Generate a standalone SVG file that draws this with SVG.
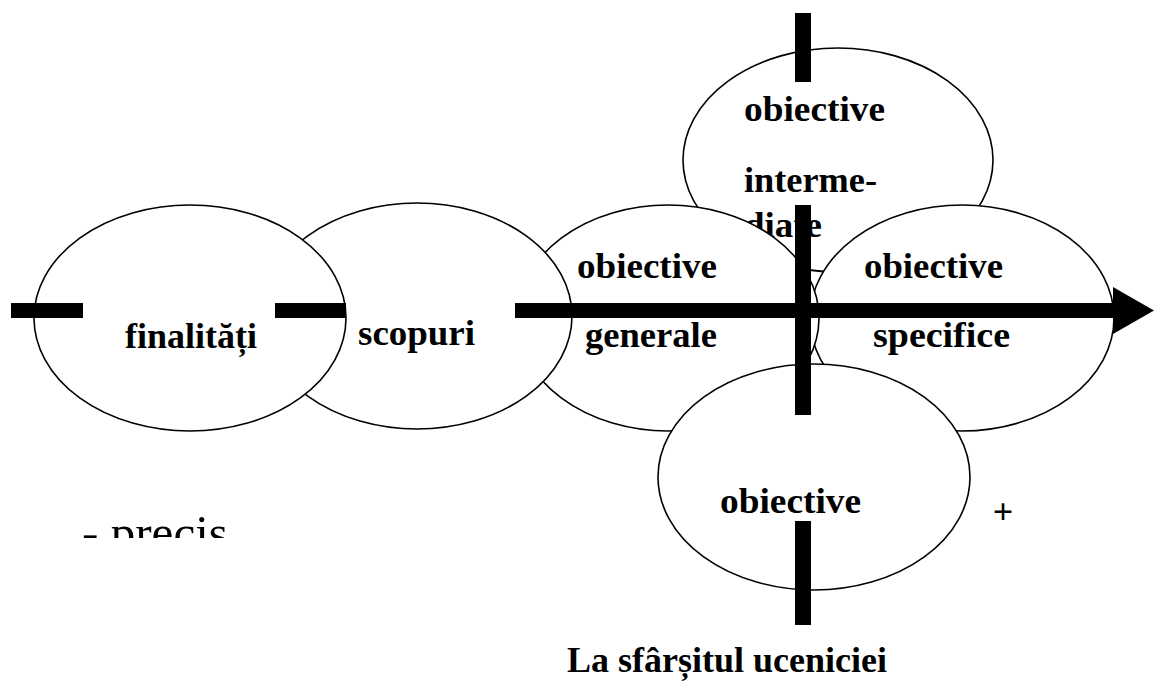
<svg xmlns="http://www.w3.org/2000/svg" width="1154" height="683" viewBox="0 0 1154 683">
  <defs>
    <style>
      .node { fill: #ffffff; stroke: #000000; stroke-width: 1.6; }
      .lbl { font-family: "Liberation Serif", "Times New Roman", serif; font-weight: bold; font-size: 36px; fill: #000000; }
      .plain { font-family: "Liberation Serif", "Times New Roman", serif; font-size: 48px; fill: #000000; }
      .bar { fill: #000000; }
      .axis { stroke: #000000; stroke-width: 15; fill: none; }
    </style>
    <marker id="head" markerUnits="userSpaceOnUse" markerWidth="42" markerHeight="48" refX="0" refY="23.5" orient="auto">
      <path d="M0,0 L41,23.5 L0,47 Z" fill="#000000"/>
    </marker>
    <clipPath id="cutPrecis">
      <rect x="0" y="480" width="400" height="58"/>
    </clipPath>
  </defs>

  <rect width="1154" height="683" fill="#ffffff"/>

  <!-- upper ellipse, partly hidden by the two below it -->
  <g id="obiective-intermediare">
    <ellipse class="node" cx="838" cy="160" rx="155" ry="112"/>
    <text class="lbl" x="744" y="121" textLength="141" lengthAdjust="spacingAndGlyphs">obiective</text>
    <text class="lbl" x="744" y="192" textLength="133" lengthAdjust="spacingAndGlyphs">interme-</text>
    <text class="lbl" x="744" y="237" textLength="78" lengthAdjust="spacingAndGlyphs">diate</text>
  </g>

  <g id="obiective-specifice">
    <ellipse class="node" cx="962" cy="318" rx="152" ry="113"/>
    <text class="lbl" x="864" y="278" textLength="139" lengthAdjust="spacingAndGlyphs">obiective</text>
    <text class="lbl" x="873" y="347" textLength="137" lengthAdjust="spacingAndGlyphs">specifice</text>
  </g>

  <g id="obiective-generale">
    <ellipse class="node" cx="668" cy="318" rx="151" ry="113"/>
    <text class="lbl" x="577" y="278" textLength="140" lengthAdjust="spacingAndGlyphs">obiective</text>
    <text class="lbl" x="585" y="347" textLength="132" lengthAdjust="spacingAndGlyphs">generale</text>
  </g>

  <g id="scopuri">
    <ellipse class="node" cx="417" cy="316" rx="155" ry="113"/>
    <text class="lbl" x="358" y="345" textLength="117" lengthAdjust="spacingAndGlyphs">scopuri</text>
  </g>

  <g id="finalitati">
    <ellipse class="node" cx="190" cy="318" rx="156" ry="113"/>
    <text class="lbl" x="125" y="348" textLength="132" lengthAdjust="spacingAndGlyphs">finalități</text>
  </g>

  <g id="obiective-jos">
    <ellipse class="node" cx="814" cy="477" rx="156" ry="113"/>
    <text class="lbl" x="720" y="513" textLength="141" lengthAdjust="spacingAndGlyphs">obiective</text>
  </g>

  <!-- axis, dashes and the vertical time marks -->
  <g id="connectors">
    <rect class="bar" x="11" y="303" width="72" height="15"/>
    <rect class="bar" x="275" y="303" width="71" height="15"/>
    <line class="axis" x1="515" y1="310.5" x2="1113" y2="310.5" marker-end="url(#head)"/>
    <rect class="bar" x="795" y="13" width="16" height="69"/>
    <rect class="bar" x="795" y="205" width="16" height="210"/>
    <rect class="bar" x="795" y="521" width="16" height="104"/>
  </g>

  <g id="note-plus">
    <text class="lbl" x="1003" y="524" font-size="34" text-anchor="middle">+</text>
  </g>

  <g id="note-precis">
    <text class="plain" x="82" y="549" clip-path="url(#cutPrecis)" textLength="146" lengthAdjust="spacingAndGlyphs">- precis</text>
  </g>

  <g id="note-final">
    <text class="lbl" x="567" y="672" textLength="320" lengthAdjust="spacingAndGlyphs">La sfârșitul uceniciei</text>
  </g>
</svg>
